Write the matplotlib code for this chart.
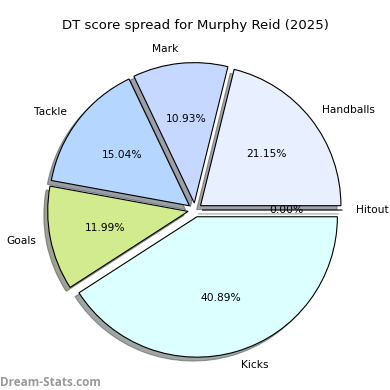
import matplotlib
matplotlib.use("Agg")
import matplotlib.pyplot as plt

# DT score categories and share of total
labels = ["Hitout", "Handballs", "Mark", "Tackle", "Goals", "Kicks"]
values = [0.00, 21.15, 10.93, 15.04, 11.99, 40.89]
colors = ["#e0ecff", "#e8f0ff", "#c6d8ff", "#b5d7ff", "#d2eb8e", "#dcffff"]

fig = plt.figure(figsize=(3.9, 3.9), dpi=100)
ax = fig.add_axes([0.02, 0.0115, 0.96, 0.90])

ax.pie(values, labels=labels, colors=colors, autopct="%1.2f%%",
       explode=[0.05] * len(values), shadow=True, startangle=0,
       wedgeprops={"edgecolor": "black", "linewidth": 0.8},
       textprops={"fontsize": 7.7})
ax.set_aspect("equal")
ax.set_title("DT score spread for Murphy Reid (2025)", fontsize=9.5, pad=3.8)

fig.text(0.0, 0.01, "Dream-Stats.com", fontsize=8.5, color="#999999",
         family="Open Sans", fontweight="bold")

fig.savefig("out.png", dpi=100)
